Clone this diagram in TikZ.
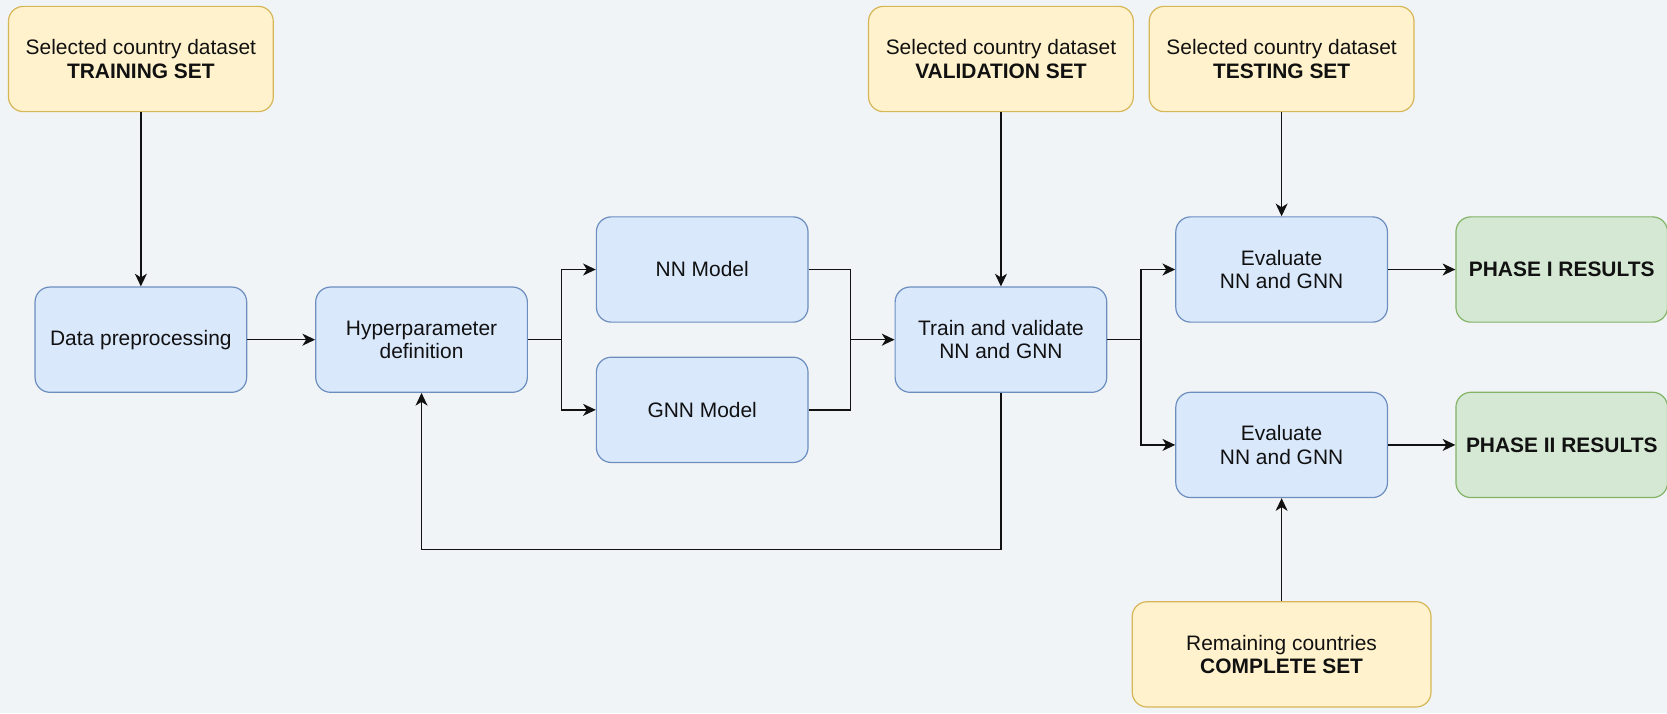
\documentclass[tikz,border=0pt]{standalone}
\usepackage{fontspec}
\setsansfont{Liberation Sans}
\usetikzlibrary{arrows.meta}
\definecolor{bg}{HTML}{F1F4F6}
\definecolor{bluefill}{HTML}{DAE8FC}
\definecolor{blueline}{HTML}{6C8EBF}
\definecolor{goldfill}{HTML}{FFF2CC}
\definecolor{goldline}{HTML}{D6B656}
\definecolor{greenfill}{HTML}{D5E8D4}
\definecolor{greenline}{HTML}{82B366}
\definecolor{ink}{HTML}{111111}

\begin{document}
\begin{tikzpicture}[x=0.025cm,y=-0.025cm,font=\sffamily\fontsize{14}{15.6}\selectfont,text=ink,
  >={Stealth[length=8.5pt,width=8pt,inset=2.5pt]},
  box/.style={draw=blueline,fill=bluefill,rounded corners=0.35cm,line width=0.8pt,
    minimum width=4.975cm,minimum height=2.475cm,align=center,inner sep=0pt},
  dataset/.style={box,draw=goldline,fill=goldfill,minimum width=6.225cm},
  result/.style={box,draw=greenline,fill=greenfill,font=\sffamily\bfseries\fontsize{14}{15.6}\selectfont},
  flow/.style={->,line width=1pt,draw=ink},
  line/.style={line width=1pt,draw=ink}]
  \fill[bg] (0,0) rectangle (1568,671);
  \useasboundingbox (0,0) rectangle (1568,671);

  % data sources
  \node[dataset] (trainset) at (132.5,55.5) {Selected country dataset\\\textbf{TRAINING SET}};
  \node[dataset] (valset) at (941.5,55.5) {Selected country dataset\\\textbf{VALIDATION SET}};
  \node[dataset] (testset) at (1205.5,55.5) {Selected country dataset\\\textbf{TESTING SET}};
  \node[dataset,minimum width=7.025cm] (complete) at (1205.5,615.5) {Remaining countries\\\textbf{COMPLETE SET}};

  % processing steps
  \node[box] (prep) at (132.5,319.5) {Data preprocessing};
  \node[box] (hyper) at (396.5,319.5) {Hyperparameter\\definition};
  \node[box] (nn) at (660.5,253.5) {NN Model};
  \node[box] (gnn) at (660.5,385.5) {GNN Model};
  \node[box] (trainval) at (941.5,319.5) {Train and validate\\NN and GNN};
  \node[box] (evalone) at (1205.5,253.5) {Evaluate\\NN and GNN};
  \node[box] (evaltwo) at (1205.5,418.5) {Evaluate\\NN and GNN};
  \node[result] (phaseone) at (1469,253.5) {PHASE I RESULTS};
  \node[result] (phasetwo) at (1469,418.5) {PHASE II RESULTS};

  \coordinate (splitA) at (528,319.5);
  \coordinate (joinA) at (800,319.5);
  \coordinate (splitB) at (1073,319.5);
  \coordinate (loop) at (941.5,517);

  \draw[flow] (trainset) -- (prep);
  \draw[flow] (prep) -- (hyper);
  \draw[line] (hyper) -- (splitA);
  \draw[flow] (splitA) |- (nn);
  \draw[flow] (splitA) |- (gnn);
  \draw[line] (nn) -| (joinA);
  \draw[line] (gnn) -| (joinA);
  \draw[flow] (joinA) -- (trainval);
  \draw[flow] (valset) -- (trainval);
  \draw[flow] (trainval) -- (loop) -| (hyper);
  \draw[line] (trainval) -- (splitB);
  \draw[flow] (splitB) |- (evalone);
  \draw[flow] (splitB) |- (evaltwo);
  \draw[flow] (testset) -- (evalone);
  \draw[flow] (complete) -- (evaltwo);
  \draw[flow] (evalone) -- (phaseone);
  \draw[flow] (evaltwo) -- (phasetwo);
\end{tikzpicture}
\end{document}
